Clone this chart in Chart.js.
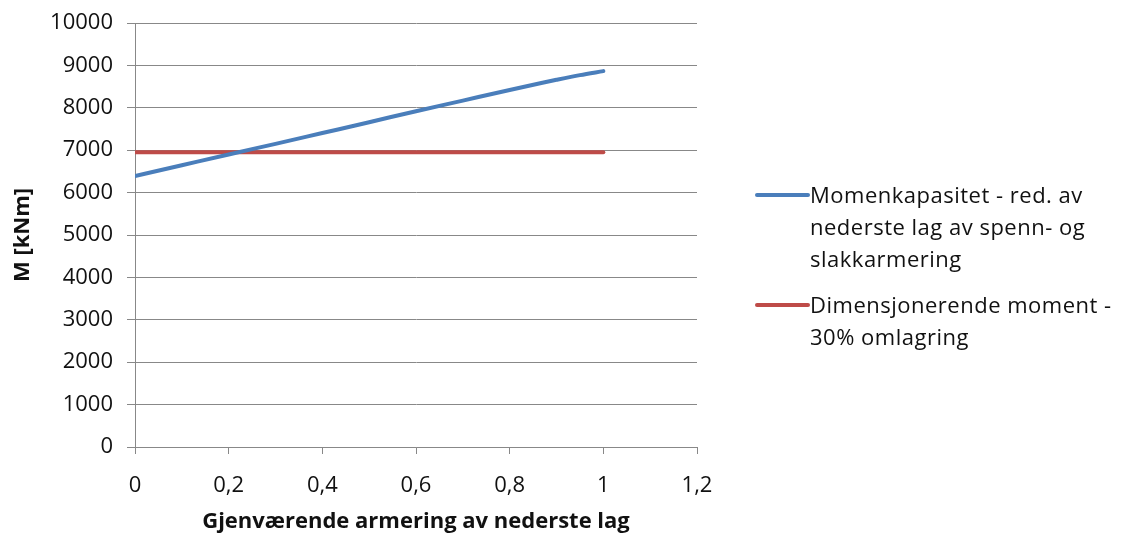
<!DOCTYPE html>
<html>
<head>
<meta charset="utf-8">
<script src="https://cdn.jsdelivr.net/npm/chart.js@4.4.1/dist/chart.umd.min.js"></script>
<style>
  html, body { margin: 0; padding: 0; background: #fff; }
  #wrap { position: relative; width: 1126px; height: 535px; }
  #legend { position: absolute; left: 755px; top: 178px; font-family: "Open Sans", sans-serif; font-size: 22px; letter-spacing: 0.5px; color: #111; }
  .item { display: flex; align-items: flex-start; margin-bottom: 14px; }
  .swatch { width: 55px; height: 4px; border-radius: 2px; margin-top: 15px; flex: none; }
  .txt { line-height: 32px; width: 340px; }
</style>
</head>
<body>
<div id="wrap">
  <canvas id="myChart" width="1126" height="535"></canvas>
  <div id="legend"></div>
</div>
<script>
  const xValues = [0, 0.1, 0.2, 0.3, 0.4, 0.5, 0.6, 0.7, 0.8, 0.87, 0.9, 0.95, 1];
  const kapasitet = [6390, 6645, 6900, 7150, 7405, 7660, 7920, 8170, 8420, 8590, 8660, 8770, 8865];
  const dimMoment = [6950, 6950, 6950, 6950, 6950, 6950, 6950, 6950, 6950, 6950, 6950, 6950, 6950];
  const seriesNames = [
    ['Momenkapasitet - red. av', 'nederste lag av spenn- og', 'slakkarmering'],
    ['Dimensjonerende moment -', '30% omlagring']
  ];
  const colors = ['#4a7ebb', '#be4b48'];

  const pts = (ys) => xValues.map((x, i) => ({ x: x, y: ys[i] }));

  const data = {
    datasets: [
      {
        label: seriesNames[0].join(' '),
        data: pts(kapasitet),
        borderColor: colors[0],
        borderWidth: 4,
        pointRadius: 0,
        cubicInterpolationMode: 'monotone',
        borderCapStyle: 'round'
      },
      {
        label: seriesNames[1].join(' '),
        data: pts(dimMoment),
        borderColor: colors[1],
        borderWidth: 4,
        pointRadius: 0,
        borderCapStyle: 'round'
      }
    ]
  };

  const font = { family: 'Open Sans', size: 22 };
  const titleFont = { family: 'Open Sans', size: 22, weight: 'bold' };

  const config = {
    type: 'line',
    data: data,
    options: {
      responsive: false,
      animation: false,
      layout: { padding: { left: 0, right: 429, top: 23, bottom: 0 } },
      plugins: {
        legend: { display: false },
        tooltip: { enabled: false }
      },
      scales: {
        x: {
          type: 'linear',
          min: 0,
          max: 1.2,
          ticks: {
            stepSize: 0.2,
            color: '#111',
            font: font,
            padding: 19,
            callback: (v) => String(Math.round(v * 10) / 10).replace('.', ',')
          },
          grid: { drawOnChartArea: false, color: '#888', tickLength: 7 },
          border: { color: '#888', width: 1 },
          title: {
            display: true,
            text: 'Gjenværende armering av nederste lag',
            color: '#111',
            font: titleFont,
            padding: { top: 8, bottom: 0 }
          },
          afterFit: (s) => { s.height = 88; }
        },
        y: {
          min: 0,
          max: 10000,
          ticks: {
            stepSize: 1000,
            color: '#111',
            font: font,
            padding: 14,
            callback: (v) => String(v)
          },
          grid: { color: '#888', tickLength: 8 },
          border: { color: '#888', width: 1 },
          title: {
            display: true,
            text: 'M [kNm]',
            color: '#111',
            font: titleFont,
            padding: { top: 10, bottom: 10 }
          },
          afterFit: (s) => { s.width = 135; s.paddingTop = 0; }
        }
      }
    }
  };

  var myChart = new Chart(document.getElementById('myChart'), config);

  const legend = document.getElementById('legend');
  seriesNames.forEach((lines, i) => {
    const item = document.createElement('div');
    item.className = 'item';
    item.innerHTML = '<div class="swatch" style="background:' + colors[i] + '"></div>' +
      '<div class="txt">' + lines.join('<br>') + '</div>';
    legend.appendChild(item);
  });
</script>
</body>
</html>
